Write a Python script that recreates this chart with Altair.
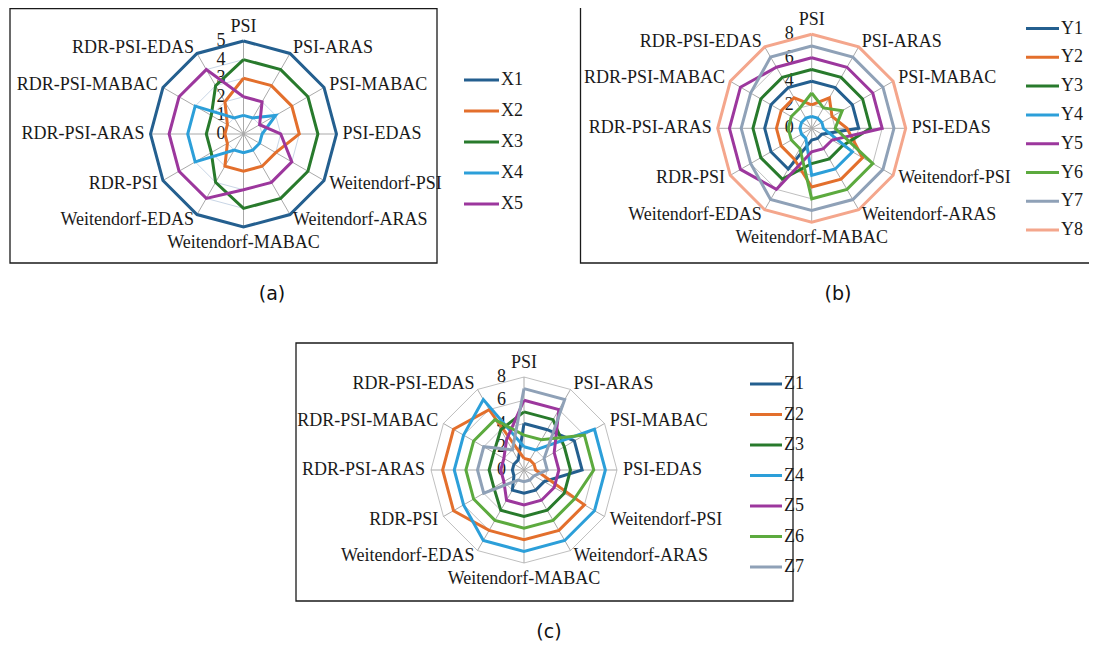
import altair as alt
import pandas as pd

# ---------------- data ----------------
CATEGORIES = ["PSI", "PSI-ARAS", "PSI-MABAC", "PSI-EDAS", "Weitendorf-PSI",
              "Weitendorf-ARAS", "Weitendorf-MABAC", "Weitendorf-EDAS",
              "RDR-PSI", "RDR-PSI-ARAS", "RDR-PSI-MABAC", "RDR-PSI-EDAS"]

# panel (a)
X_NAMES = ["X1", "X2", "X3", "X4", "X5"]
X1 = [5, 5, 5, 5, 5, 5, 5, 5, 5, 5, 5, 5]
X2 = [3, 3, 3, 3, 2, 2, 2, 2, 1, 1, 1, 2]
X3 = [4, 4, 4, 4, 4, 4, 4, 3, 2, 2, 2, 3]
X4 = [1, 1, 2, 1, 1, 1, 1, 1, 3, 3, 3, 1]
X5 = [2, 2, 1, 2, 3, 3, 3, 4, 4, 4, 4, 4]
X_TICKS = [0, 1, 2, 3, 4, 5]
X_RINGS = [1, 2, 3, 4, 5]

# panel (b)
Y_NAMES = ["Y1", "Y2", "Y3", "Y4", "Y5", "Y6", "Y7", "Y8"]
Y1 = [4, 4, 4, 4, 1, 1, 1, 4, 4, 4, 4, 4]
Y2 = [2, 3, 2, 3, 5, 5, 5, 3, 3, 3, 3, 3]
Y3 = [5, 5, 5, 5, 3, 3, 3, 5, 5, 5, 5, 5]
Y4 = [1, 1, 1, 1, 4, 4, 4, 1, 1, 1, 1, 1]
Y5 = [6, 6, 6, 6, 2, 2, 2, 6, 7, 7, 7, 6]
Y6 = [3, 2, 3, 2, 6, 6, 6, 2, 2, 2, 2, 2]
Y7 = [7, 7, 7, 7, 7, 7, 7, 7, 6, 6, 6, 7]
Y8 = [8, 8, 8, 8, 8, 8, 8, 8, 8, 8, 8, 8]
Y_TICKS = [0, 2, 4, 6, 8]
Y_RINGS = [2, 4, 6, 8]

# panel (c)
Z_NAMES = ["Z1", "Z2", "Z3", "Z4", "Z5", "Z6", "Z7"]
Z1 = [4, 4, 5, 5, 2, 2, 2, 2, 1, 1, 1, 1]
Z2 = [1, 1, 1, 1, 6, 6, 6, 6, 7, 7, 7, 6]
Z3 = [5, 5, 4, 4, 4, 4, 4, 4, 3, 3, 3, 4]
Z4 = [2, 2, 7, 7, 7, 7, 7, 7, 6, 6, 6, 7]
Z5 = [6, 6, 3, 3, 3, 3, 3, 3, 2, 2, 2, 3]
Z6 = [3, 3, 6, 6, 5, 5, 5, 5, 5, 5, 5, 5]
Z7 = [7, 7, 2, 2, 1, 1, 1, 1, 4, 4, 4, 2]
Z_TICKS = [0, 2, 4, 6, 8]
Z_RINGS = [2, 4, 6, 8]

CAPTIONS = ["(a)", "(b)", "(c)"]

# ---------------- styles / layout ----------------
W, H = 1081, 634
M = 8  # page margin
SERIF = "Liberation Serif"
SANS = "DejaVu Sans"
FS = 18

FAMILY = ["#245f8f", "#e36f2c", "#287a2c", "#2c9fd9", "#9c379d",
          "#5caa3e", "#8fa1b7", "#f4a68c"]

ALL_NAMES = X_NAMES + Y_NAMES + Z_NAMES
ALL_COLORS = FAMILY[:5] + FAMILY[:8] + FAMILY[:7]
COLOR = alt.Color("series:N", scale=alt.Scale(domain=ALL_NAMES, range=ALL_COLORS), legend=None)


def XQ(f):
    return alt.X(f"{f}:Q", scale=alt.Scale(domain=[0, W], nice=False, zero=False), axis=None)


def YQ(f):
    return alt.Y(f"{f}:Q", scale=alt.Scale(domain=[0, H], nice=False, zero=False, reverse=True), axis=None)


def polar(cx, cy, R, vmax, vexpr, kexpr="datum.k", off=0):
    px = f"{cx} + ({R}*({vexpr})/{vmax} + {off})*sin(({kexpr})*PI/6)"
    py = f"{cy} - ({R}*({vexpr})/{vmax} + {off})*cos(({kexpr})*PI/6)"
    return px, py


def radar(names, vals, ticks, rings, vmax, ring_color, geo, leg):
    cx, cy, R = geo[0] - M, geo[1] - M, geo[2]
    layers = []

    # ring gridlines
    ring_df = pd.DataFrame([{"ring": r, "k": k} for r in rings for k in range(13)])
    px, py = polar(cx, cy, R, vmax, "datum.ring")
    layers.append(
        alt.Chart(ring_df).transform_calculate(px=px, py=py)
        .mark_line(color=ring_color, strokeWidth=1)
        .encode(x=XQ("px"), y=YQ("py"), detail="ring:N", order="k:Q")
    )

    # spokes
    spk = pd.DataFrame({"k": list(range(12)), "v0": 0, "v1": vmax})
    p0x, p0y = polar(cx, cy, R, vmax, "datum.v0")
    p1x, p1y = polar(cx, cy, R, vmax, "datum.v1")
    layers.append(
        alt.Chart(spk).transform_calculate(ax=p0x, ay=p0y, bx=p1x, by=p1y)
        .mark_rule(color="#a9a9a9", strokeWidth=1)
        .encode(x=XQ("ax"), y=YQ("ay"), x2=alt.X2("bx:Q"), y2=alt.Y2("by:Q"))
    )

    # value tick labels
    tk = pd.DataFrame({"t": ticks})
    layers.append(
        alt.Chart(tk).transform_calculate(tx=f"{cx} - 18", ty=f"{cy} - {R}*datum.t/{vmax}")
        .mark_text(align="right", baseline="middle", font=SERIF, fontSize=FS, color="#1a1a1a")
        .encode(x=XQ("tx"), y=YQ("ty"), text="t:N")
    )

    # series polygons
    rows = []
    for name, v in zip(names, vals):
        for k in range(13):
            rows.append({"series": name, "k": k, "value": v[k % 12]})
    sdf = pd.DataFrame(rows)
    px, py = polar(cx, cy, R, vmax, "datum.value")
    layers.append(
        alt.Chart(sdf).transform_calculate(px=px, py=py)
        .mark_line(strokeWidth=3, strokeJoin="miter")
        .encode(x=XQ("px"), y=YQ("py"), color=COLOR, detail="series:N", order="k:Q")
    )

    # category labels
    cdf = pd.DataFrame({"k": list(range(12)), "label": CATEGORIES, "vmax": vmax})
    groups = [
        ("datum.k >= 1 && datum.k <= 5", "left", "middle", 6),
        ("datum.k >= 7", "right", "middle", 6),
        ("datum.k == 0", "center", "alphabetic", 9),
        ("datum.k == 6", "center", "top", 7),
    ]
    for cond, align, base, off in groups:
        lx, ly = polar(cx, cy, R, vmax, "datum.vmax", off=off)
        layers.append(
            alt.Chart(cdf).transform_filter(cond).transform_calculate(lx=lx, ly=ly)
            .mark_text(align=align, baseline=base, font=SERIF, fontSize=FS, color="#1a1a1a")
            .encode(x=XQ("lx"), y=YQ("ly"), text="label:N")
        )

    # legend
    ldf = pd.DataFrame({"series": names, "i": list(range(len(names)))})
    lx0, lx1, ly0, ldy = leg[0] - M, leg[1] - M, leg[2] - M, leg[3]
    lbase = alt.Chart(ldf).transform_calculate(
        ly=f"{ly0} + datum.i*{ldy}", a=f"{lx0}", b=f"{lx1}", t=f"{lx1} + 2")
    layers.append(
        lbase.mark_rule(strokeWidth=3)
        .encode(x=XQ("a"), x2=alt.X2("b:Q"), y=YQ("ly"), color=COLOR)
    )
    layers.append(
        lbase.mark_text(align="left", baseline="middle", font=SERIF, fontSize=FS, color="#1a1a1a")
        .encode(x=XQ("t"), y=YQ("ly"), text="series:N")
    )
    return layers


# frames (image coordinates: x0, y0, x1, y1)
FRAMES = [(10, 8.5, 437, 263), (580.5, 0, 1110, 263), (296, 343, 793, 601)]
frame_df = pd.DataFrame([{"x0": a - M, "y0": b - M, "x1": c - M, "y1": d - M} for a, b, c, d in FRAMES])
frames = (
    alt.Chart(frame_df)
    .mark_rect(fillOpacity=0, stroke="#1a1a1a", strokeWidth=1.3)
    .encode(x=XQ("x0"), x2=alt.X2("x1:Q"), y=YQ("y0"), y2=alt.Y2("y1:Q"))
)

CAP_POS = [(272, 294), (838, 294), (549, 632)]
cap_df = pd.DataFrame({"cap": CAPTIONS, "cx": [p[0] - M for p in CAP_POS], "cy": [p[1] - M for p in CAP_POS]})
captions = (
    alt.Chart(cap_df)
    .mark_text(align="center", baseline="middle", font=SANS, fontSize=19, color="#111111")
    .encode(x=XQ("cx"), y=YQ("cy"), text="cap:N")
)

layers = [frames]
layers += radar(X_NAMES, [X1, X2, X3, X4, X5], X_TICKS, X_RINGS, 5, "#c9d6e6",
                (243.5, 134, 93), (464, 499, 80, 31))
layers += radar(Y_NAMES, [Y1, Y2, Y3, Y4, Y5, Y6, Y7, Y8], Y_TICKS, Y_RINGS, 8, "#bfbfbf",
                (811.7, 128.3, 94), (1026, 1059, 28.5, 28.8))
layers += radar(Z_NAMES, [Z1, Z2, Z3, Z4, Z5, Z6, Z7], Z_TICKS, Z_RINGS, 8, "#bfbfbf",
                (524, 470, 93), (750, 782, 384, 30.5))
layers.append(captions)

chart = (
    alt.layer(*layers)
    .properties(width=W, height=H, padding=0, autosize=alt.AutoSizeParams(type="none"))
    .configure_view(stroke=None)
)

chart.save("out.html", embed_options={"renderer": "svg", "actions": False})
